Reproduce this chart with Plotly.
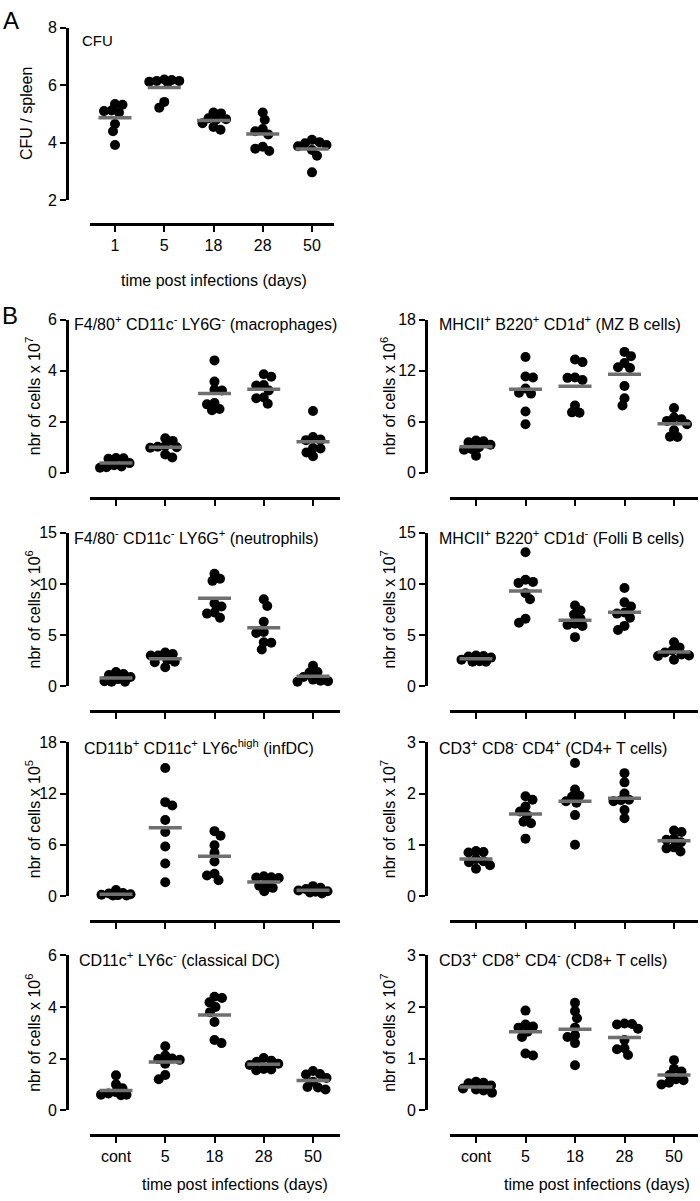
import numpy as np
import plotly.graph_objects as go

W, H = 700, 1201

# ---------------- data ----------------
cats_A = ["1", "5", "18", "28", "50"]
cats_B = ["cont", "5", "18", "28", "50"]

cfu = [[5.35, 5.32, 5.12, 5.1, 5.05, 4.65, 4.4, 3.92],
       [6.2, 6.18, 6.15, 6.15, 6.12, 6.1, 5.42, 5.22],
       [5.05, 5.02, 4.85, 4.82, 4.8, 4.68, 4.55, 4.45],
       [5.05, 4.8, 4.48, 4.4, 4.29, 3.86, 3.79, 3.71],
       [4.1, 4.02, 3.98, 3.92, 3.88, 3.75, 3.55, 2.97]]
cfu_mean = [4.87, 5.92, 4.77, 4.3, 3.78]

macro = [[0.58, 0.57, 0.55, 0.38, 0.3, 0.25, 0.22, 0.2],
         [1.35, 1.25, 1.05, 1.02, 1.0, 0.98, 0.72, 0.6],
         [4.4, 3.57, 3.25, 3.22, 2.73, 2.68, 2.5, 2.45],
         [3.86, 3.76, 3.44, 3.42, 3.22, 2.95, 2.92, 2.7],
         [2.42, 1.4, 1.3, 1.28, 0.97, 0.95, 0.8, 0.65]]
macro_mean = [0.38, 1.0, 3.1, 3.27, 1.22]

mzb = [[3.8, 3.7, 3.6, 3.3, 3.0, 2.8, 2.7, 2.0],
       [13.6, 11.3, 11.2, 9.9, 9.4, 9.3, 7.2, 5.7],
       [13.3, 13.0, 11.2, 11.15, 10.9, 7.9, 7.1, 7.05],
       [14.2, 13.7, 12.9, 12.4, 12.3, 10.2, 8.75, 7.9],
       [7.6, 6.5, 6.3, 6.1, 5.7, 5.0, 4.25, 4.2]]
mzb_mean = [3.06, 9.8, 10.18, 11.57, 5.77]

neutro = [[1.4, 1.2, 1.1, 0.9, 0.7, 0.5, 0.45, 0.45],
          [3.3, 3.15, 3.0, 3.0, 2.6, 2.4, 2.35, 1.85],
          [11.0, 10.5, 10.3, 8.1, 7.8, 7.2, 7.1, 6.7],
          [8.5, 7.85, 6.3, 5.3, 5.2, 4.3, 4.25, 3.6],
          [2.0, 1.4, 1.35, 0.9, 0.65, 0.55, 0.5, 0.45]]
neutro_mean = [0.8, 2.7, 8.6, 5.72, 0.97]

follib = [[3.0, 2.95, 2.9, 2.8, 2.6, 2.45, 2.4, 2.4],
          [13.1, 10.4, 10.2, 10.1, 9.1, 8.5, 6.6, 6.2],
          [7.9, 7.4, 7.0, 6.6, 6.1, 6.0, 5.9, 4.8],
          [9.6, 8.2, 7.8, 7.2, 7.1, 6.7, 5.9, 5.5],
          [4.3, 3.8, 3.5, 3.3, 3.1, 3.0, 2.95, 2.6]]
follib_mean = [2.7, 9.3, 6.44, 7.23, 3.34]

infdc = [[0.7, 0.35, 0.3, 0.2, 0.15, 0.1, 0.05, 0.05],
         [15.0, 11.0, 10.6, 8.9, 7.5, 5.8, 3.8, 1.6],
         [7.6, 7.05, 5.95, 5.05, 4.05, 2.6, 2.4, 1.85],
         [2.3, 2.2, 2.15, 2.1, 1.5, 1.2, 0.95, 0.55],
         [1.15, 0.95, 0.8, 0.65, 0.55, 0.5, 0.4, 0.3]]
infdc_mean = [0.2, 8.0, 4.65, 1.63, 0.66]

cd4 = [[0.88, 0.86, 0.85, 0.72, 0.68, 0.66, 0.6, 0.53],
       [1.95, 1.88, 1.75, 1.65, 1.58, 1.45, 1.42, 1.12],
       [2.6, 2.08, 1.96, 1.94, 1.85, 1.82, 1.58, 1.0],
       [2.4, 2.22, 2.0, 1.88, 1.87, 1.85, 1.68, 1.52],
       [1.28, 1.25, 1.12, 1.1, 1.05, 0.95, 0.93, 0.87]]
cd4_mean = [0.72, 1.6, 1.85, 1.91, 1.08]

cdc = [[1.35, 1.0, 0.85, 0.7, 0.65, 0.6, 0.6, 0.58],
       [2.48, 2.12, 2.0, 1.98, 1.95, 1.8, 1.36, 1.2],
       [4.4, 4.35, 4.18, 4.0, 3.8, 3.42, 2.72, 2.6],
       [2.02, 1.92, 1.88, 1.8, 1.75, 1.6, 1.58, 1.55],
       [1.52, 1.4, 1.38, 1.25, 1.1, 0.9, 0.88, 0.8]]
cdc_mean = [0.76, 1.87, 3.69, 1.78, 1.15]

cd8 = [[0.55, 0.53, 0.52, 0.48, 0.42, 0.4, 0.38, 0.34],
       [1.93, 1.66, 1.62, 1.6, 1.52, 1.42, 1.1, 1.06],
       [2.08, 1.92, 1.78, 1.6, 1.45, 1.42, 1.3, 0.87],
       [1.68, 1.67, 1.66, 1.58, 1.36, 1.2, 1.18, 1.07],
       [0.97, 0.8, 0.75, 0.68, 0.6, 0.58, 0.53, 0.5]]
cd8_mean = [0.45, 1.52, 1.57, 1.41, 0.68]

# ---------------- panel definitions ----------------
FONT = "Arial, Liberation Sans, Helvetica, sans-serif"
panels = [
    dict(vals=cfu, means=cfu_mean, cats=cats_A, ymax=8, ymin=2, dtick=2,
         title="CFU", tsize=15, ytitle="CFU / spleen", col="A", row="A", labels=True),
    dict(vals=macro, means=macro_mean, cats=cats_B, ymax=6, ymin=0, dtick=2,
         title="F4/80<sup>+</sup> CD11c<sup>-</sup> LY6G<sup>-</sup> (macrophages)",
         ytitle="nbr of cells x 10<sup>7</sup>", col="L", row=1, labels=False),
    dict(vals=mzb, means=mzb_mean, cats=cats_B, ymax=18, ymin=0, dtick=6,
         title="MHCII<sup>+</sup> B220<sup>+</sup> CD1d<sup>+</sup> (MZ B cells)",
         ytitle="nbr of cells x 10<sup>6</sup>", col="R", row=1, labels=False),
    dict(vals=neutro, means=neutro_mean, cats=cats_B, ymax=15, ymin=0, dtick=5,
         title="F4/80<sup>-</sup> CD11c<sup>-</sup> LY6G<sup>+</sup> (neutrophils)",
         ytitle="nbr of cells x 10<sup>6</sup>", col="L", row=2, labels=False),
    dict(vals=follib, means=follib_mean, cats=cats_B, ymax=15, ymin=0, dtick=5,
         title="MHCII<sup>+</sup> B220<sup>+</sup> CD1d<sup>-</sup> (Folli B cells)",
         ytitle="nbr of cells x 10<sup>7</sup>", col="R", row=2, labels=False),
    dict(vals=infdc, means=infdc_mean, cats=cats_B, ymax=18, ymin=0, dtick=6,
         title="CD11b<sup>+</sup> CD11c<sup>+</sup> LY6c<sup>high</sup> (infDC)",
         ytitle="nbr of cells x 10<sup>5</sup>", col="L", row=3, labels=False),
    dict(vals=cd4, means=cd4_mean, cats=cats_B, ymax=3, ymin=0, dtick=1,
         title="CD3<sup>+</sup> CD8<sup>-</sup> CD4<sup>+</sup> (CD4+ T cells)",
         ytitle="nbr of cells x 10<sup>7</sup>", col="R", row=3, labels=False),
    dict(vals=cdc, means=cdc_mean, cats=cats_B, ymax=6, ymin=0, dtick=2,
         title="CD11c<sup>+</sup> LY6c<sup>-</sup> (classical DC)",
         ytitle="nbr of cells x 10<sup>6</sup>", col="L", row=4, labels=True),
    dict(vals=cd8, means=cd8_mean, cats=cats_B, ymax=3, ymin=0, dtick=1,
         title="CD3<sup>+</sup> CD8<sup>+</sup> CD4<sup>-</sup> (CD8+ T cells)",
         ytitle="nbr of cells x 10<sup>7</sup>", col="R", row=4, labels=True),
]

# geometry in pixels
cols = {
    "A": dict(x0=90, x1=334, c0=115, c4=312, yax=67, tx=80, ytx=27),
    "L": dict(x0=90, x1=340, c0=116, c4=313, yax=67, tx=72, ytx=33),
    "R": dict(x0=450, x1=698, c0=476, c4=674, yax=426, tx=437, ytx=388),
}
rows = {
    "A": dict(top=20, bot=195, xline=219, ty=33),
    1: dict(top=316, bot=471.5, xline=497, ty=320),
    2: dict(top=532.3, bot=688, xline=713, ty=537),
    3: dict(top=745, bot=900.7, xline=926, ty=750),
    4: dict(top=961, bot=1118, xline=1143, ty=965),
}
title_left_override = {(3, "L"): 82, (4, "L"): 77}

DIAM = 10


def swarm(values, ppy, ppx, diam, cap=16.0, thresh=0.75):
    """Compact scatter: spread points sideways (allowing slight overlap) within a cap."""
    vals = np.asarray(values, dtype=float)
    order = np.argsort(-vals, kind="stable")
    placed = []
    offs = np.zeros(len(vals))
    cands = np.arange(-cap, cap + 0.01, 0.5)
    flip = 1.0
    for i in order:
        ypx = vals[i] * ppy
        if placed:
            P = np.array(placed)
            d = np.sqrt((cands[:, None] - P[None, :, 1]) ** 2 + (ypx - P[None, :, 0]) ** 2).min(axis=1)
        else:
            d = np.full(len(cands), np.inf)
        ok = d >= thresh * diam
        if ok.any():
            score = np.abs(cands) - flip * 1e-3 * cands
            score[~ok] = np.inf
            best = cands[np.argmin(score)]
        else:
            best = cands[np.argmax(d - 1e-3 * np.abs(cands))]
        if best != 0:
            flip = -np.sign(best)
        placed.append((ypx, best))
        offs[i] = best / ppx
    return offs


fig = go.Figure()
layout = dict(
    width=W, height=H, margin=dict(l=0, r=0, t=0, b=0, pad=0), autosize=False,
    paper_bgcolor="white", plot_bgcolor="white", showlegend=False,
    font=dict(family=FONT, size=16, color="black"),
)
annotations = []

for k, p in enumerate(panels, start=1):
    c = cols[p["col"]]
    r = rows[p["row"]]
    unit = (c["c4"] - c["c0"]) / 4.0
    xr = [-(c["c0"] - c["x0"]) / unit, 4 + (c["x1"] - c["c4"]) / unit]
    ppy = (r["bot"] - r["top"]) / (p["ymax"] - p["ymin"])
    xa = "xaxis" if k == 1 else f"xaxis{k}"
    ya = "yaxis" if k == 1 else f"yaxis{k}"
    xref = "x" if k == 1 else f"x{k}"
    yref = "y" if k == 1 else f"y{k}"

    layout[xa] = dict(
        domain=[c["x0"] / W, c["x1"] / W], range=xr, anchor="free",
        position=1 - r["xline"] / H, showgrid=False, zeroline=False,
        showline=True, linecolor="black", linewidth=2.6,
        ticks="outside", ticklen=6, tickwidth=2.2, tickcolor="black",
        tickmode="array", tickvals=list(range(5)), ticktext=p["cats"],
        showticklabels=p["labels"], tickfont=dict(size=16, family=FONT),
        fixedrange=True,
    )
    layout[ya] = dict(
        domain=[1 - r["bot"] / H, 1 - r["top"] / H],
        range=[p["ymin"], p["ymax"]], anchor="free", position=c["yax"] / W,
        showgrid=False, zeroline=False, showline=True, linecolor="black",
        linewidth=2.6, ticks="outside", ticklen=6, tickwidth=2.2, tickcolor="black",
        tickmode="linear", tick0=p["ymin"], dtick=p["dtick"],
        tickfont=dict(size=16, family=FONT), fixedrange=True,
    )

    xs, ys = [], []
    for gi, grp in enumerate(p["vals"]):
        offs = swarm(np.array(grp) - p["ymin"], ppy, unit, DIAM)
        xs.extend(gi + offs)
        ys.extend(grp)
    fig.add_trace(go.Scatter(
        x=xs, y=ys, mode="markers", xaxis=xref, yaxis=yref, cliponaxis=False,
        marker=dict(size=DIAM, color="black", line=dict(width=0)), hoverinfo="skip"))

    mx, my = [], []
    half = 16.5 / unit
    for gi, m in enumerate(p["means"]):
        mx += [gi - half, gi + half, None]
        my += [m, m, None]
    fig.add_trace(go.Scatter(
        x=mx, y=my, mode="lines", xaxis=xref, yaxis=yref, cliponaxis=False,
        line=dict(color="#6f6f6f", width=3.5), hoverinfo="skip"))

    tx = title_left_override.get((p["row"], p["col"]), c["tx"])
    annotations.append(dict(
        text=p["title"], x=tx / W, y=1 - r["ty"] / H, xref="paper", yref="paper",
        xanchor="left", yanchor="middle", showarrow=False,
        font=dict(size=p.get("tsize", 16), family=FONT, color="black")))
    annotations.append(dict(
        text=p["ytitle"], x=c["ytx"] / W, y=1 - (r["top"] + r["bot"]) / 2 / H,
        xref="paper", yref="paper", xanchor="center", yanchor="middle",
        textangle=-90, showarrow=False, font=dict(size=16, family=FONT, color="black")))

# x-axis titles
for (cx, cy) in [(214, 276), (235, 1193), (597, 1193)]:
    annotations.append(dict(
        text="time post infections (days)", x=cx / W, y=1 - cy / H,
        xref="paper", yref="paper", xanchor="center", yanchor="middle",
        showarrow=False, font=dict(size=16, family=FONT, color="black")))

# panel letters
annotations.append(dict(text="A", x=11 / W, y=1 - 13 / H, xref="paper", yref="paper",
                        xanchor="center", yanchor="middle", showarrow=False,
                        font=dict(size=24, family=FONT, color="black")))
annotations.append(dict(text="B", x=10 / W, y=1 - 312 / H, xref="paper", yref="paper",
                        xanchor="center", yanchor="middle", showarrow=False,
                        font=dict(size=24, family=FONT, color="black")))

layout["annotations"] = annotations
fig.update_layout(**layout)
fig.write_html(
    "out.html",
    config={"displayModeBar": False},
    post_script="document.body.style.margin='0';document.body.style.overflow='hidden';",
)
